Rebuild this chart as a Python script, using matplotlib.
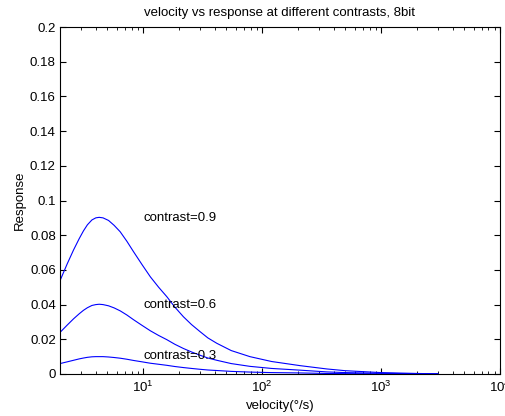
import numpy as np
import matplotlib.pyplot as plt

plt.rcParams['font.family'] = ['Liberation Sans', 'DejaVu Sans']
plt.rcParams['mathtext.fontset'] = 'custom'
plt.rcParams['mathtext.rm'] = 'Liberation Sans'

# velocity (deg/s) sample points
vel = [2.03, 2.3, 2.6, 2.9, 3.15, 3.4, 3.71, 4.0, 4.27, 4.6, 5.12, 5.7, 6.41,
       7.3, 8.3, 9.8, 11.5, 13.5, 15.8, 18.5, 21.8, 25.5, 30.1, 35, 41.6, 55,
       79, 120, 209, 350, 500, 1000, 2000, 3000]
# responses for each contrast
resp_09 = [0.0548, 0.0635, 0.0715, 0.0780, 0.0825, 0.0860, 0.0888, 0.0900, 0.0903,
           0.0900, 0.0885, 0.0857, 0.0820, 0.0765, 0.0705, 0.0630, 0.0560, 0.0500,
           0.0446, 0.0385, 0.0330, 0.0285, 0.0244, 0.0208, 0.0177, 0.0135, 0.0100,
           0.0072, 0.0048, 0.0029, 0.0019, 0.0008, 0.0003, 0.0001]
resp_06 = [0.0244, 0.0282, 0.0318, 0.0347, 0.0367, 0.0382, 0.0395, 0.0400, 0.0402,
           0.0400, 0.0393, 0.0381, 0.0364, 0.0340, 0.0313, 0.0280, 0.0249, 0.0222,
           0.0198, 0.0171, 0.0147, 0.0127, 0.0108, 0.0092, 0.0079, 0.0060, 0.0044,
           0.0032, 0.0022, 0.0012, 0.0008, 0.0004, 0.0001, 0.0000]
resp_03 = [0.0061, 0.0070, 0.0079, 0.0087, 0.0092, 0.0096, 0.0099, 0.0100, 0.0100,
           0.0100, 0.0098, 0.0095, 0.0091, 0.0085, 0.0078, 0.0070, 0.0062, 0.0056,
           0.0050, 0.0043, 0.0037, 0.0032, 0.0027, 0.0023, 0.0020, 0.0015, 0.0011,
           0.0008, 0.0006, 0.0003, 0.0002, 0.0001, 0.0000, 0.0000]
labels = ['contrast=0.9', 'contrast=0.6', 'contrast=0.3']
label_y = [0.09, 0.04, 0.0104]
xticks = [10, 100, 1000, 10000]
xticklabels = ['$\\mathregular{10^{1}}$', '$\\mathregular{10^{2}}$',
               '$\\mathregular{10^{3}}$', '$\\mathregular{10^{4}}$']

fs = 9.5
fig = plt.figure(figsize=(5.05, 4.16), dpi=100)
ax = fig.add_axes([0.1188, 0.101, 0.8713, 0.834])

for r in (resp_09, resp_06, resp_03):
    ax.plot(vel, r, color='#0000ff', lw=0.8)
for lab, y in zip(labels, label_y):
    ax.text(10, y, lab, fontsize=fs, va='center', ha='left')

ax.set_xscale('log')
ax.set_xlim(2, 1e4)
ax.set_xticks(xticks)
ax.set_xticklabels(xticklabels)
ax.set_ylim(0, 0.2)
ax.set_yticks(np.arange(0, 0.201, 0.02))
ax.set_yticklabels(['0', '0.02', '0.04', '0.06', '0.08', '0.1', '0.12', '0.14',
                    '0.16', '0.18', '0.2'])
ax.tick_params(which='both', direction='in', top=True, right=True, labelsize=fs)
ax.tick_params(which='major', length=4, pad=3)
ax.tick_params(which='minor', length=2)
ax.tick_params(axis='x', which='major', pad=4)
ax.set_title('velocity vs response at different contrasts, 8bit', fontsize=fs, pad=8)
ax.set_xlabel('velocity(°/s)', fontsize=fs, labelpad=4)
ax.set_ylabel('Response', fontsize=fs, labelpad=3)

fig.savefig('out.png', dpi=100)
